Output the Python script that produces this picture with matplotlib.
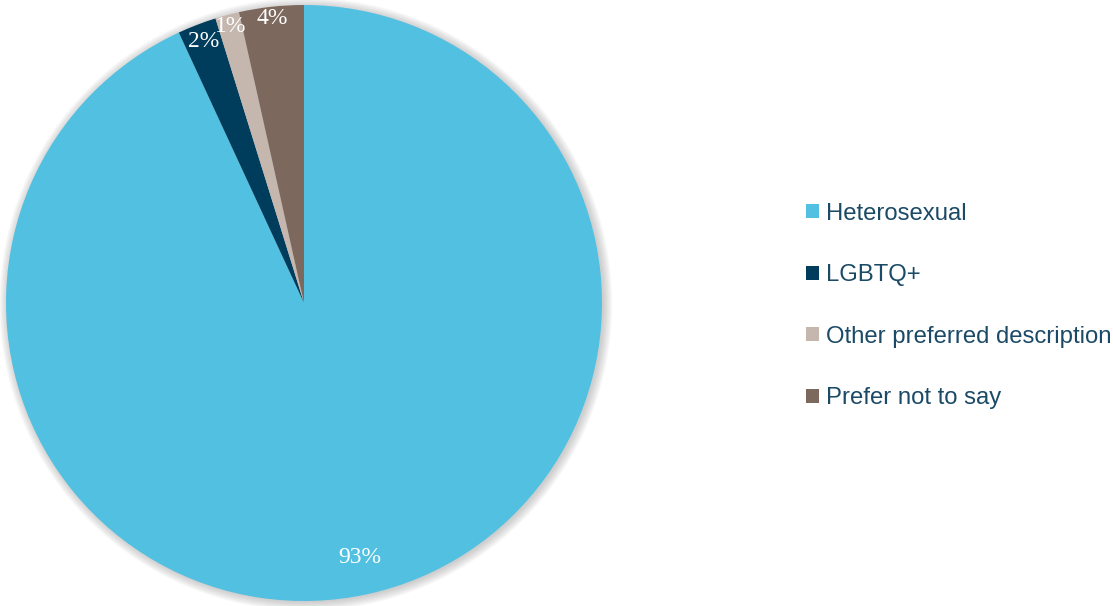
import matplotlib.pyplot as plt
from matplotlib.patches import Circle, Patch

# --- Data ---
categories = ['Heterosexual', 'LGBTQ+', 'Other preferred description', 'Prefer not to say']
shares = [93.1, 2.1, 1.3, 3.5]
colors = ['#52C0E1', '#003D5C', '#C5B6AE', '#7D685D']
text_color = '#1B4A66'

# --- Figure setup (1113 x 606 px) ---
W, H = 1113, 606
fig = plt.figure(figsize=(W / 100, H / 100), dpi=100)

# pie centre (304, 303) px, radius 298 px; axes span a bit more for the shadow
cx, cy, r = 304, 303, 298
lim = 1.06
ax = fig.add_axes([(cx - r * lim) / W, (cy - r * lim) / H, 2 * r * lim / W, 2 * r * lim / H])

# soft shadow behind the pie
for k in range(8):
    ax.add_patch(Circle((0.006, -0.004), 1 + 0.004 * k, color='#888888',
                        alpha=0.06, lw=0, zorder=0))

wedges, texts, autotexts = ax.pie(
    shares, colors=colors, startangle=90, counterclock=False,
    autopct='%.0f%%', pctdistance=0.96, radius=1,
    wedgeprops=dict(linewidth=0),
    textprops=dict(color='white', fontsize=17, family='Liberation Serif'))
for w in wedges:
    w.set_zorder(2)
for t in autotexts:
    t.set_zorder(3)

# pie() resets the limits, so set them afterwards
ax.set_xlim(-lim, lim)
ax.set_ylim(-lim, lim)
ax.set_aspect('equal')
ax.axis('off')

# big slice label sits further in
x, y = autotexts[0].get_position()
autotexts[0].set_position((x * 0.875 / 0.96, y * 0.875 / 0.96))
# LGBTQ+ label sits a touch lower
x, y = autotexts[1].get_position()
autotexts[1].set_position((x * 0.94 / 0.96, y * 0.94 / 0.96))

# --- Legend ---
handles = [Patch(facecolor=c, edgecolor='none') for c in colors]
leg = fig.legend(handles, categories, loc='center left',
                 bbox_to_anchor=(806 / W, 1 - 306 / H), frameon=False,
                 prop=dict(family='Liberation Sans', size=17.2),
                 handlelength=0.55, handleheight=0.52, handletextpad=0.28,
                 labelspacing=1.65, borderaxespad=0, borderpad=0)
for t in leg.get_texts():
    t.set_color(text_color)

fig.savefig('out.png', dpi=100)
